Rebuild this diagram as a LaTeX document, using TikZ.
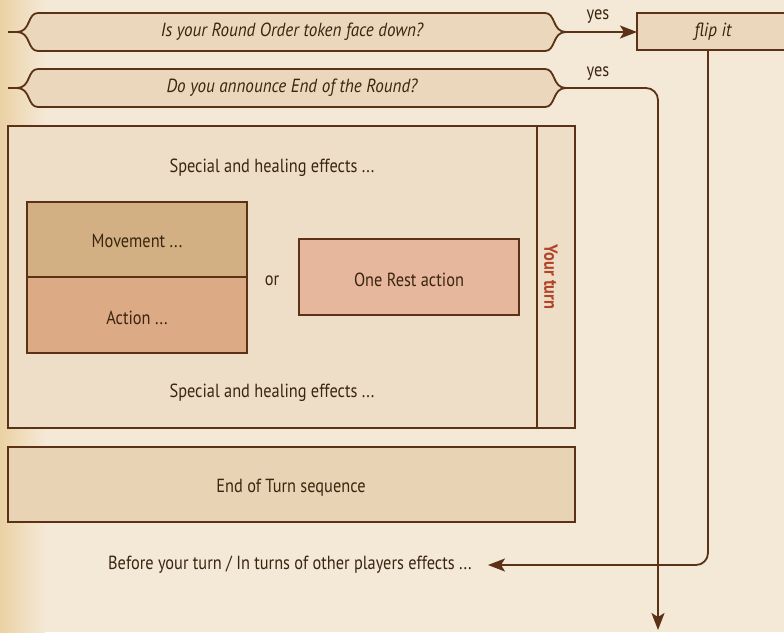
\documentclass[tikz,border=0pt]{standalone}
\usepackage{fontspec}
\setmainfont{PT Sans}[FakeStretch=0.86]
\usetikzlibrary{arrows.meta}
\definecolor{bg}{HTML}{F4E8D6}
\definecolor{bgedge}{HTML}{EBD2A4}
\definecolor{edge}{HTML}{5B3216}
\definecolor{ink}{HTML}{3A2510}
\definecolor{decfill}{HTML}{EBD8BC}
\definecolor{mainfill}{HTML}{EEDEC8}
\definecolor{movefill}{HTML}{D3B083}
\definecolor{actfill}{HTML}{DDAA86}
\definecolor{restfill}{HTML}{E6B79C}
\definecolor{endfill}{HTML}{E8D4B4}
\definecolor{turnred}{HTML}{B0452A}
\tikzset{
  box/.style={draw=edge, line width=1.8pt},
  lbl/.style={text=ink, font=\fontsize{19}{21}\selectfont, inner sep=0pt},
  qlbl/.style={text=ink, font=\fontsize{19}{21}\selectfont\itshape\addfontfeatures{FakeStretch=0.9}, inner sep=0pt},
  conn/.style={draw=edge, line width=1.8pt},
  tip/.style={-{Stealth[length=17pt,width=13pt,inset=4pt]}},
}
\begin{document}
\begin{tikzpicture}[x=1pt,y=-1pt]
\useasboundingbox (0,0) rectangle (784,632);
\clip (0,0) rectangle (784,632);
% background
\fill[bg] (0,0) rectangle (784,632);
\shade[left color=bgedge, right color=bg] (0,0) rectangle (45,632);
% decision 1
\filldraw[box, fill=decfill] (38,13) -- (545,13) .. controls (556,13) and (552,32) .. (566,32) -- (573,32) -- (566,32) .. controls (552,32) and (556,51) .. (545,51) -- (38,51) .. controls (27,51) and (31,32) .. (17,32) -- (8,32) -- (17,32) .. controls (31,32) and (27,13) .. (38,13) -- cycle;
\node[qlbl] (q1) at (292,32) {Is your Round Order token face down?};
\coordinate (q1tip) at (573,32);
% decision 2
\filldraw[box, fill=decfill] (38,69) -- (545,69) .. controls (556,69) and (552,88) .. (566,88) -- (573,88) -- (566,88) .. controls (552,88) and (556,107) .. (545,107) -- (38,107) .. controls (27,107) and (31,88) .. (17,88) -- (8,88) -- (17,88) .. controls (31,88) and (27,69) .. (38,69) -- cycle;
\node[qlbl] (q2) at (292,88) {Do you announce End of the Round?};
\coordinate (q2tip) at (573,88);
% flip it
\draw[box, fill=decfill] (637,13) rectangle (800,50);
\node[qlbl] (flip) at (713,32) {flip it};
\coordinate (flipw) at (637,32);
\coordinate (flipb) at (708,50);
% main box
\draw[box, fill=mainfill] (8,126) rectangle (575,428);
\draw[draw=edge, line width=1.2pt] (537,126) -- (537,428);
\node[text=turnred, font=\fontsize{19}{21}\selectfont\bfseries, rotate=-90, inner sep=0pt] (turn) at (551,277) {Your turn};
\node[lbl] (sp1) at (272,168) {Special and healing effects ...};
\node[lbl] (sp2) at (272,393) {Special and healing effects ...};
\draw[box, fill=movefill] (27,202) rectangle (247,277);
\node[lbl] (move) at (137,241) {Movement ...};
\draw[box, fill=actfill] (27,277) rectangle (247,353);
\node[lbl] (act) at (137,318) {Action ...};
\node[lbl] (or) at (272,281) {or};
\draw[box, fill=restfill] (299,239) rectangle (519,315);
\node[lbl] (rest) at (409,280) {One Rest action};
% end of turn
\draw[box, fill=endfill] (8,447) rectangle (575,522);
\node[lbl] (eot) at (291,488) {End of Turn sequence};
% before
\node[lbl, anchor=west] (before) at (108,565) {Before your turn / In turns of other players effects ...};
\coordinate (beforeE) at (488,565);
\coordinate (down) at (658,630);
% connectors
\draw[conn, tip] (q1tip) -- (flipw);
\node[lbl] (yes1) at (598,17) {yes};
\node[lbl] (yes2) at (598,74) {yes};
\draw[conn, tip, rounded corners=12pt] (q2tip) -| (down);
\draw[conn, tip, rounded corners=12pt] (flipb) |- (beforeE);
\end{tikzpicture}
\end{document}
